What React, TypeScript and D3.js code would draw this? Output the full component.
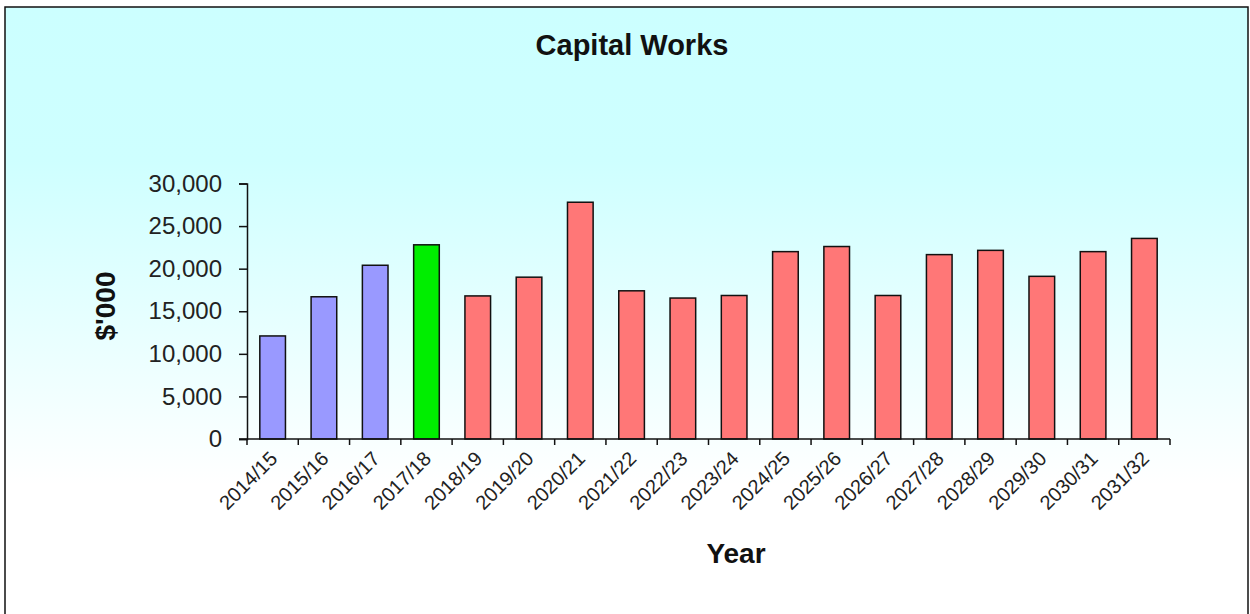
import React, { useRef, useEffect } from "react";
import * as d3 from "d3";

const years = [
  "2014/15", "2015/16", "2016/17", "2017/18", "2018/19", "2019/20",
  "2020/21", "2021/22", "2022/23", "2023/24", "2024/25", "2025/26",
  "2026/27", "2027/28", "2028/29", "2029/30", "2030/31", "2031/32",
];

const capitalWorks = [
  12100, 16700, 20400, 22800, 16800, 19000,
  27800, 17400, 16550, 16850, 22000, 22600,
  16850, 21650, 22150, 19100, 22000, 23550,
];

// actual / current / forecast per year
const periodType = [
  "actual", "actual", "actual", "current", "forecast", "forecast",
  "forecast", "forecast", "forecast", "forecast", "forecast", "forecast",
  "forecast", "forecast", "forecast", "forecast", "forecast", "forecast",
];

const yTicks = [0, 5000, 10000, 15000, 20000, 25000, 30000];

const colours: Record<string, string> = {
  actual: "#9999FF",
  current: "#00EE00",
  forecast: "#FF7777",
};

const width = 1250;
const height = 614;

const App = () => {
  const ref = useRef<SVGSVGElement>(null);

  useEffect(() => {
    if (!ref.current) return;
    const svg = d3.select(ref.current);
    svg.selectAll("*").remove();

    const font = "Arial, 'Liberation Sans', sans-serif";

    // background gradient
    const grad = svg
      .append("defs")
      .append("linearGradient")
      .attr("id", "bg")
      .attr("x1", 0)
      .attr("y1", 0)
      .attr("x2", 0)
      .attr("y2", 1);
    grad.append("stop").attr("offset", "0").attr("stop-color", "#CCFFFF");
    grad.append("stop").attr("offset", "0.25").attr("stop-color", "#CEFFFF");
    grad.append("stop").attr("offset", "0.78").attr("stop-color", "#FFFFFF");
    grad.append("stop").attr("offset", "1").attr("stop-color", "#FFFFFF");

    svg
      .append("rect")
      .attr("x", 5)
      .attr("y", 7)
      .attr("width", 1243)
      .attr("height", 612)
      .attr("fill", "url(#bg)")
      .attr("stroke", "#111")
      .attr("stroke-width", 1.5);

    const left = 247;
    const right = 1170;
    const top = 183.5;
    const bottom = 439;

    const x = d3.scaleBand().domain(years).range([left, right]).paddingInner(0.5).paddingOuter(0.25);
    const y = d3.scaleLinear().domain([0, 30000]).range([bottom, top]);

    // bars
    svg
      .selectAll(".bar")
      .data(years)
      .enter()
      .append("rect")
      .attr("class", "bar")
      .attr("x", (d) => x(d) ?? 0)
      .attr("width", x.bandwidth())
      .attr("y", (d, i) => y(capitalWorks[i]))
      .attr("height", (d, i) => bottom - y(capitalWorks[i]))
      .attr("fill", (d, i) => colours[periodType[i]])
      .attr("stroke", "#111")
      .attr("stroke-width", 1.5);

    // y axis
    const yAxis = svg
      .append("g")
      .attr("transform", `translate(${left},0)`)
      .call(
        d3
          .axisLeft(y)
          .tickValues(yTicks)
          .tickSize(8)
          .tickPadding(17)
          .tickFormat((d) => d3.format(",")(d as number))
      );
    yAxis.select(".domain").attr("stroke", "#111").attr("stroke-width", 1.5);
    yAxis.selectAll(".tick line").attr("stroke", "#111").attr("stroke-width", 1.5);
    yAxis
      .selectAll(".tick text")
      .attr("font-family", font)
      .attr("font-size", 24)
      .attr("fill", "#222")
      .attr("dy", "0.32em");

    // x axis: line and ticks between categories
    const step = x.step();
    const tickXs = d3.range(years.length + 1).map((i) => left + i * step);
    svg
      .append("line")
      .attr("x1", left - 8)
      .attr("x2", right)
      .attr("y1", bottom)
      .attr("y2", bottom)
      .attr("stroke", "#111")
      .attr("stroke-width", 1.5);
    svg
      .selectAll(".xtick")
      .data(tickXs)
      .enter()
      .append("line")
      .attr("x1", (d) => d)
      .attr("x2", (d) => d)
      .attr("y1", bottom)
      .attr("y2", bottom + 6)
      .attr("stroke", "#111")
      .attr("stroke-width", 1.5);

    svg
      .selectAll(".xlabel")
      .data(years)
      .enter()
      .append("text")
      .attr("transform", (d) => `translate(${(x(d) ?? 0) + x.bandwidth() / 2 + 1},455) rotate(-45)`)
      .attr("text-anchor", "end")
      .attr("dy", "0.35em")
      .attr("font-family", font)
      .attr("font-size", 20)
      .attr("fill", "#222")
      .text((d) => d);

    // titles
    svg
      .append("text")
      .attr("x", 632)
      .attr("y", 55)
      .attr("text-anchor", "middle")
      .attr("font-family", font)
      .attr("font-weight", "bold")
      .attr("font-size", 29)
      .attr("fill", "#111")
      .text("Capital Works");

    svg
      .append("text")
      .attr("x", 736)
      .attr("y", 563)
      .attr("text-anchor", "middle")
      .attr("font-family", font)
      .attr("font-weight", "bold")
      .attr("font-size", 28)
      .attr("fill", "#111")
      .text("Year");

    svg
      .append("text")
      .attr("transform", "translate(115,306) rotate(-90)")
      .attr("text-anchor", "middle")
      .attr("font-family", font)
      .attr("font-weight", "bold")
      .attr("font-size", 28)
      .attr("fill", "#111")
      .text("$'000");
  }, []);

  return (
    <svg
      ref={ref}
      width={width}
      height={height}
      style={{ position: "absolute", left: 0, top: 0, background: "#fff" }}
    />
  );
};

export default App;
